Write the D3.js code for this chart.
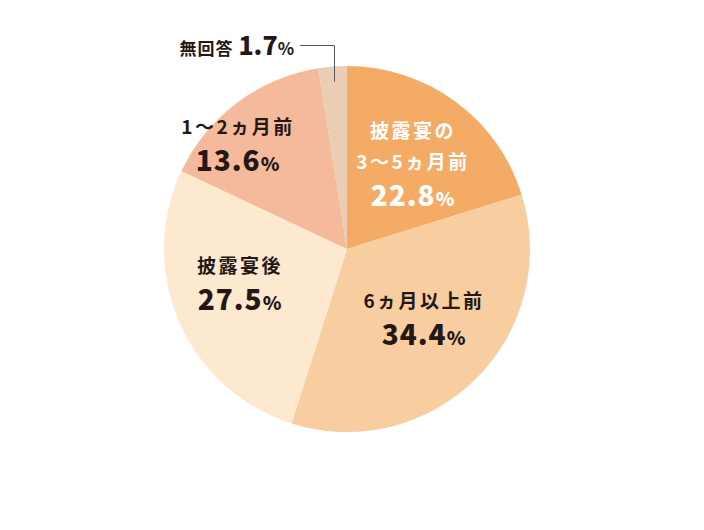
<!DOCTYPE html>
<html><head><meta charset="utf-8">
<script src="https://cdn.jsdelivr.net/npm/d3@7"></script>
<style>
html,body{margin:0;padding:0;background:#fff;}
svg text{font-family:"Noto Sans CJK JP","Noto Sans",sans-serif;font-weight:700;}
svg text.num{font-weight:900;}
</style></head>
<body><svg id="c" width="704" height="530"></svg>
<script>
const categories = ["披露宴の3～5ヵ月前","6ヵ月以上前","披露宴後","1～2ヵ月前","無回答"];
// percentages printed on the chart
const values = [22.8, 34.4, 27.5, 13.6, 1.7];
// slice shares as drawn in the picture (measured from the slice angles)
const sliceShares = [20.2, 34.7, 27.1, 15.5, 2.5];
const labelLines = [["披露宴の","3～5ヵ月前"],["6ヵ月以上前"],["披露宴後"],["1～2ヵ月前"],[]];
const colors = ["#F4AB65","#F8CEA1","#FDE8D0","#F5BA9C","#EACDB4"];

const svg = d3.select("#c");
const cx = 347, cy = 249, R = 183;
const g = svg.append("g").attr("transform",`translate(${cx},${cy})`);
const pie = d3.pie().sort(null).value(d=>d);
const arcs = pie(sliceShares);
const arc = d3.arc().innerRadius(0).outerRadius(R);
g.selectAll("path").data(arcs).enter().append("path")
  .attr("d",arc).attr("fill",(d,i)=>colors[i]);

const dark = "#231815";
// label layout (center x, top-line baseline y) relative to pie center
const layout = [
  {x:66, y:-111, fill:"#fff"},
  {x:77, y:59, fill:dark},
  {x:-107, y:24, fill:dark},
  {x:-109, y:-115, fill:dark}
];
layout.forEach((L,i)=>{
  const lines = labelLines[i];
  let y = L.y;
  lines.forEach((ln,k)=>{
    g.append("text").attr("x",L.x).attr("y",y).attr("text-anchor","middle")
      .attr("fill",L.fill).attr("font-size",19).attr("letter-spacing",2.5).text(ln);
    y += 31;
  });
  y += 6;
  const t = g.append("text").attr("class","num").attr("x",L.x).attr("y",y).attr("text-anchor","middle")
    .attr("fill",L.fill).attr("font-size",28).attr("letter-spacing",1);
  t.append("tspan").text(values[i].toFixed(1));
  t.append("tspan").attr("font-size",19).text("%");
});

// 無回答 callout
const a5 = arcs[4];
const mid5 = (a5.startAngle + a5.endAngle)/2;
const px = Math.round(Math.sin(mid5)*(R-15) + cx) + 0.5;
const py = -Math.cos(mid5)*(R-15) + cy;
svg.append("polyline")
  .attr("points",`${300},45.5 ${px},45.5 ${px},${py}`)
  .attr("fill","none").attr("stroke","#555").attr("stroke-width",1);
const t5 = svg.append("text").attr("x",294).attr("y",55).attr("text-anchor","end").attr("fill",dark);
t5.append("tspan").attr("font-size",17).attr("letter-spacing",1).text(categories[4]+" ");
t5.append("tspan").attr("class","num").attr("font-size",25).attr("font-weight",900).text(values[4].toFixed(1));
t5.append("tspan").attr("font-size",17).text("%");
</script></body></html>
